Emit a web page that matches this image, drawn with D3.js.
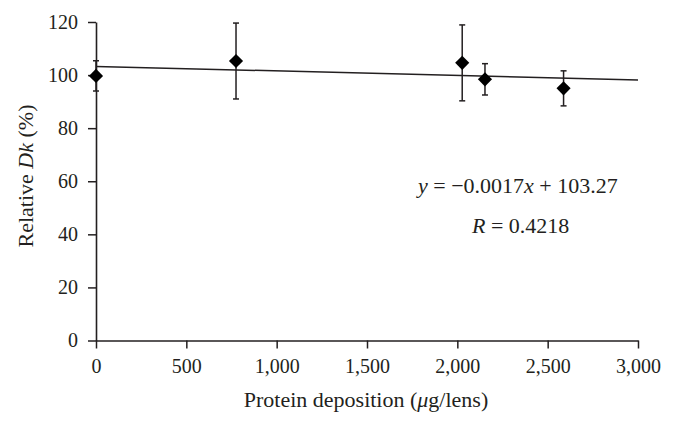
<!DOCTYPE html>
<html>
<head>
<meta charset="utf-8">
<script src="https://cdn.jsdelivr.net/npm/d3@7"></script>
<style>
  html, body { margin: 0; padding: 0; background: #fff; }
  svg { display: block; }
  text { font-family: "Liberation Serif", "Times New Roman", serif; fill: #231f20; }
</style>
</head>
<body>
<svg id="chart" width="674" height="425"></svg>
<script>
// ---- data ----
const depositions = [0, 775, 2027, 2153, 2588];      // µg/lens
const relativeDk  = [99.7, 105.3, 104.6, 98.4, 95.0]; // %
const errors      = [5.7, 14.3, 14.3, 5.9, 6.6];      // ± %
const xTicks = [0, 500, 1000, 1500, 2000, 2500, 3000];
const yTicks = [0, 20, 40, 60, 80, 100, 120];
const trendSlope = -0.0017;
const trendIntercept = 103.27;
const trendRange = [0, 3000];

(function () {
// ---- layout ----
const svg = d3.select("#chart");
const mLeft = 96, mRight = 638, mTop = 22, mBottom = 340.5;
const ink = "#231f20";

const x = d3.scaleLinear().domain([0, 3000]).range([mLeft, mRight]);
const y = d3.scaleLinear().domain([0, 120]).range([mBottom, mTop]);

const fmt = d3.format(",");

// y axis
const yAxis = svg.append("g")
  .attr("transform", `translate(${mLeft},0)`)
  .call(d3.axisLeft(y).tickValues(yTicks).tickSize(8).tickPadding(10).tickSizeOuter(0));
// x axis
const xAxis = svg.append("g")
  .attr("transform", `translate(0,${mBottom})`)
  .call(d3.axisBottom(x).tickValues(xTicks).tickFormat(fmt).tickSize(8).tickPadding(10).tickSizeOuter(0));

[yAxis, xAxis].forEach(g => {
  g.select(".domain").attr("stroke", ink).attr("stroke-width", 1.6);
  g.selectAll(".tick line").attr("stroke", ink).attr("stroke-width", 1.5);
  g.selectAll(".tick text").attr("fill", ink)
    .style("font-family", '"Liberation Serif", serif').style("font-size", "20px");
});

// trend line
svg.append("line")
  .attr("x1", x(trendRange[0])).attr("y1", y(trendIntercept + trendSlope * trendRange[0]))
  .attr("x2", x(trendRange[1])).attr("y2", y(trendIntercept + trendSlope * trendRange[1]))
  .attr("stroke", ink).attr("stroke-width", 1.5);

const pts = depositions.map((d, i) => ({ x: d, y: relativeDk[i], e: errors[i] }));

// error bars
const eb = svg.append("g").attr("stroke", ink).attr("stroke-width", 1.5);
pts.forEach(p => {
  const cx = x(p.x);
  eb.append("line").attr("x1", cx).attr("x2", cx).attr("y1", y(p.y - p.e)).attr("y2", y(p.y + p.e));
  eb.append("line").attr("x1", cx - 3).attr("x2", cx + 3).attr("y1", y(p.y + p.e)).attr("y2", y(p.y + p.e));
  eb.append("line").attr("x1", cx - 3).attr("x2", cx + 3).attr("y1", y(p.y - p.e)).attr("y2", y(p.y - p.e));
});

// diamonds
const sym = d3.symbol().type(d3.symbolSquare).size(100);
svg.append("g").selectAll("path").data(pts).join("path")
  .attr("d", sym)
  .attr("transform", p => `translate(${x(p.x)},${y(p.y)}) rotate(45)`)
  .attr("fill", "#000");

// axis titles
const xt = svg.append("text")
  .attr("x", 366).attr("y", 407)
  .attr("text-anchor", "middle").style("font-size", "22px");
xt.append("tspan").text("Protein deposition (");
xt.append("tspan").style("font-style", "italic").text("μ");
xt.append("tspan").text("g/lens)");

const yt = svg.append("text")
  .attr("transform", `translate(33,176) rotate(-90)`)
  .attr("text-anchor", "middle").style("font-size", "22px");
yt.append("tspan").text("Relative ");
yt.append("tspan").style("font-style", "italic").text("Dk");
yt.append("tspan").text(" (%)");

// equation
const eq = svg.append("text").attr("x", 418).attr("y", 193).style("font-size", "22px");
eq.append("tspan").style("font-style", "italic").text("y");
eq.append("tspan").text(" = −0.0017");
eq.append("tspan").style("font-style", "italic").text("x");
eq.append("tspan").text(" + 103.27");

const rt = svg.append("text").attr("x", 472).attr("y", 233).style("font-size", "22px");
rt.append("tspan").style("font-style", "italic").text("R");
rt.append("tspan").text(" = 0.4218");
})();
</script>
</body>
</html>
